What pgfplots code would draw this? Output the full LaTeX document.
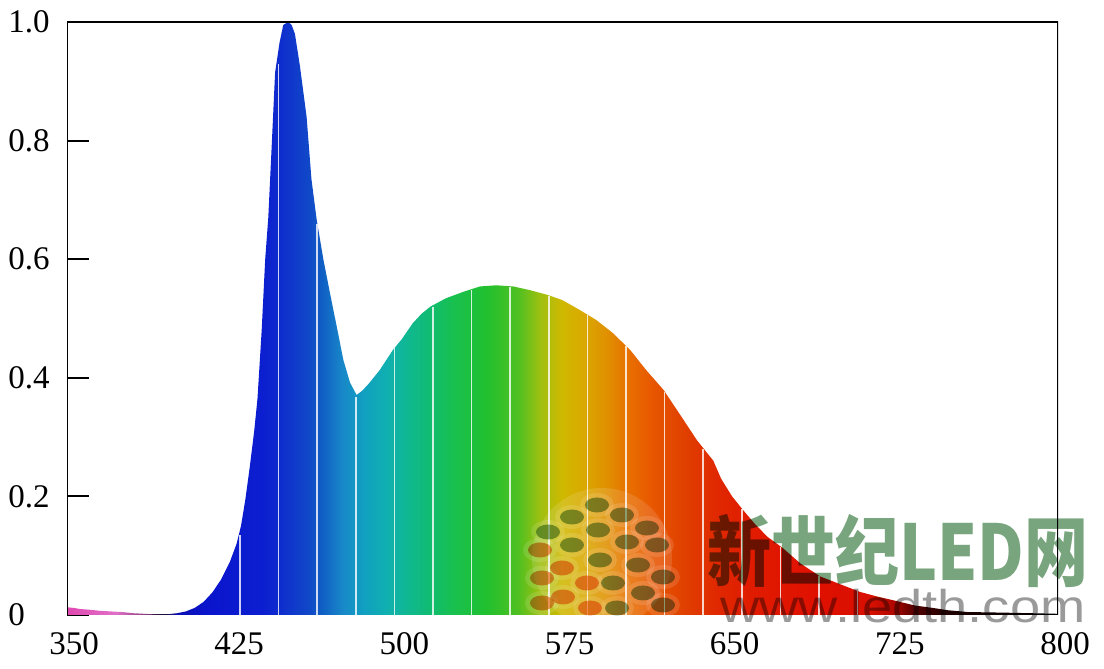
\documentclass[border=0pt]{standalone}
\usepackage{fontspec}
\setmainfont{Liberation Serif}
\newfontfamily\cjk{Noto Sans CJK SC}
\newfontfamily\wmfont{Liberation Sans}
\usepackage{pgfplots}
\pgfplotsset{compat=1.18}
\usepackage{pgfplotstable}

% spectrum colours
\definecolor{s350}{HTML}{E048B0}
\definecolor{s372}{HTML}{E070C8}
\definecolor{s385}{HTML}{904080}
\definecolor{s395}{HTML}{201050}
\definecolor{s400}{HTML}{0A10B0}
\definecolor{s413}{HTML}{0A14CC}
\definecolor{s440}{HTML}{0C20D0}
\definecolor{s450}{HTML}{1034CC}
\definecolor{s460}{HTML}{1048C8}
\definecolor{s466}{HTML}{1060C4}
\definecolor{s475}{HTML}{1888C8}
\definecolor{s485}{HTML}{10A0C0}
\definecolor{s495}{HTML}{10B0B0}
\definecolor{s505}{HTML}{10B890}
\definecolor{s515}{HTML}{10BC70}
\definecolor{s525}{HTML}{18C050}
\definecolor{s540}{HTML}{20C030}
\definecolor{s555}{HTML}{50C020}
\definecolor{s565}{HTML}{A0C010}
\definecolor{s575}{HTML}{D0B800}
\definecolor{s585}{HTML}{DAA800}
\definecolor{s595}{HTML}{E09000}
\definecolor{s605}{HTML}{E87000}
\definecolor{s615}{HTML}{E85800}
\definecolor{s630}{HTML}{E04000}
\definecolor{s645}{HTML}{E02800}
\definecolor{s660}{HTML}{E01C00}
\definecolor{s690}{HTML}{E01000}
\definecolor{s715}{HTML}{D81000}
\definecolor{s725}{HTML}{B00800}
\definecolor{s735}{HTML}{500000}
\definecolor{s750}{HTML}{200000}
\definecolor{s800}{HTML}{000000}
\definecolor{wmgreen}{HTML}{78A57D}
\definecolor{wmgray}{HTML}{9A9A9A}
\definecolor{logoolive}{HTML}{8CAE86}
\definecolor{logoorange}{HTML}{F89A62}

% position in bp = 25 + (nm-350)/9
\pgfdeclarehorizontalshading{spectrum}{100bp}{%
color(0bp)=(s350); color(25bp)=(s350); color(27.5bp)=(s372);
color(28.89bp)=(s385); color(30bp)=(s395); color(30.56bp)=(s400);
color(32bp)=(s413); color(35bp)=(s440); color(36.11bp)=(s450);
color(37.22bp)=(s460); color(37.89bp)=(s466); color(38.89bp)=(s475);
color(40bp)=(s485); color(41.11bp)=(s495); color(42.22bp)=(s505);
color(43.33bp)=(s515); color(44.44bp)=(s525); color(46.11bp)=(s540);
color(47.78bp)=(s555); color(48.89bp)=(s565); color(50bp)=(s575);
color(51.11bp)=(s585); color(52.22bp)=(s595); color(53.33bp)=(s605);
color(54.44bp)=(s615); color(56.11bp)=(s630); color(57.78bp)=(s645);
color(59.44bp)=(s660); color(62.78bp)=(s690); color(65.56bp)=(s715);
color(66.67bp)=(s725); color(67.78bp)=(s735); color(69.44bp)=(s750);
color(75bp)=(s800); color(100bp)=(s800)}

\pgfplotstableread{
nm v
350 0.013
353 0.012
356 0.010
360 0.009
365 0.007
370 0.006
375 0.005
380 0.003
385 0.002
390 0.001
395 0.001
400 0.003
404 0.006
408 0.012
412 0.022
416 0.038
420 0.060
424 0.090
427 0.120
429 0.150
431 0.195
433 0.250
435 0.310
436.5 0.365
438.4 0.480
440 0.600
441.4 0.670
443 0.795
444.5 0.915
446.5 0.965
448.2 0.995
450.5 1.000
452 0.995
453.5 0.980
455.8 0.925
458.8 0.840
461 0.735
463.4 0.666
466.4 0.600
469.4 0.543
472.5 0.486
475.5 0.430
478.5 0.392
481.5 0.371
484 0.378
487 0.390
492 0.413
498 0.447
502 0.465
507 0.492
511 0.508
515 0.520
522 0.534
530 0.545
537.5 0.554
545 0.556
552.7 0.554
560 0.548
568 0.540
575 0.531
583 0.514
590.5 0.497
598 0.475
605.7 0.447
613 0.413
621 0.379
628 0.340
636 0.295
643.5 0.260
647 0.230
652 0.200
657 0.177
662 0.155
668 0.132
675 0.113
683 0.087
692 0.065
701 0.052
710 0.039
718 0.031
725 0.025
735 0.016
743 0.012
750 0.008
759 0.005
775 0.004
788 0.003
800 0.002
}\spec

\pgfplotstableread{
nm v
428.56 0.135
446.09 0.930
463.62 0.660
481.14 0.368
498.67 0.450
516.20 0.520
533.73 0.548
551.26 0.553
568.79 0.538
586.31 0.506
603.84 0.453
621.37 0.376
638.90 0.280
656.43 0.178
673.95 0.115
691.48 0.066
709.01 0.040
}\lines

\begin{document}
\begin{tikzpicture}
\begin{axis}[
  scale only axis,
  width=495.5pt, height=296.5pt,
  xmin=350, xmax=800, ymin=0, ymax=1,
  axis line style={draw=none},
  xtick={350,425,500,575,650,725,800},
  xticklabels={350,425,500,575,650,725,800},
  ytick={0,0.2,0.4,0.6,0.8,1.0},
  yticklabels={0,0.2,0.4,0.6,0.8,1.0},
  ytick pos=left,
  tick align=inside,
  x tick style={draw=none},
  y tick style={black, line width=1pt},
  major tick length=11pt,
  tick label style={font=\fontsize{16.5}{19}\selectfont, inner sep=0pt},
  yticklabel style={anchor=west, xshift=-29.5pt},
  xticklabel style={anchor=north, yshift=-8.5pt, xshift=3.5pt},
]
\draw[black, line width=0.7pt] (rel axis cs:0,0) -- (rel axis cs:1,0);
\addplot[draw=none, shade, shading=spectrum] table[x=nm, y=v] {\spec} \closedcycle;
\addplot[ycomb, white, opacity=0.8, line width=0.8pt, no marks] table[x=nm, y=v] {\lines};
\draw[black, line width=1pt] (rel axis cs:0,0) -- (rel axis cs:0,1) -- (rel axis cs:1,1) -- (rel axis cs:1,0);
\coordinate (imgTL) at (rel axis cs:-0.06761,1.03710);
\coordinate (imgBR) at (rel axis cs:1.04642,-0.09106);
\end{axis}
\path (imgTL) rectangle (imgBR);
% watermark (logo and site name)
\begin{scope}[shift={(imgTL)}, x=0.5pt, y=-0.5pt]
  \fill[white, opacity=0.12] (602,558) circle [radius=70];
  \foreach \cx/\cy in {597/505,572/517,622/515,548/532,598/530,647/528,572/545,627/542,657/545,600/560,638/565,663/577,613/583,643/593,617/608,663/605,540/550,562/568,542/578,587/583,563/597,542/603,590/608}
    \fill[white, opacity=0.12] (\cx,\cy) ellipse [x radius=17, y radius=12];
  \begin{scope}[blend mode=multiply]
    \foreach \cx/\cy in {597/505,572/517,622/515,548/532,598/530,647/528,572/545,627/542,657/545,600/560,638/565,663/577,613/583,643/593,617/608,663/605}
      \fill[logoolive] (\cx,\cy) ellipse [x radius=12, y radius=7.5];
    \foreach \cx/\cy in {540/550,562/568,542/578,587/583,563/597,542/603,590/608}
      \fill[logoorange] (\cx,\cy) ellipse [x radius=12, y radius=7.5];
    \node[text=wmgreen, font=\cjk\bfseries\fontsize{32}{32}\selectfont, inner sep=0pt] at (898,551) {\scalebox{1}[1.2]{新世纪LED网}};
    \node[text=wmgray, font=\wmfont\fontsize{23}{23}\selectfont, inner sep=0pt, anchor=base] at (903,623) {\scalebox{1.18}[1]{www.ledth.com}};
  \end{scope}
\end{scope}
\end{tikzpicture}
\end{document}
